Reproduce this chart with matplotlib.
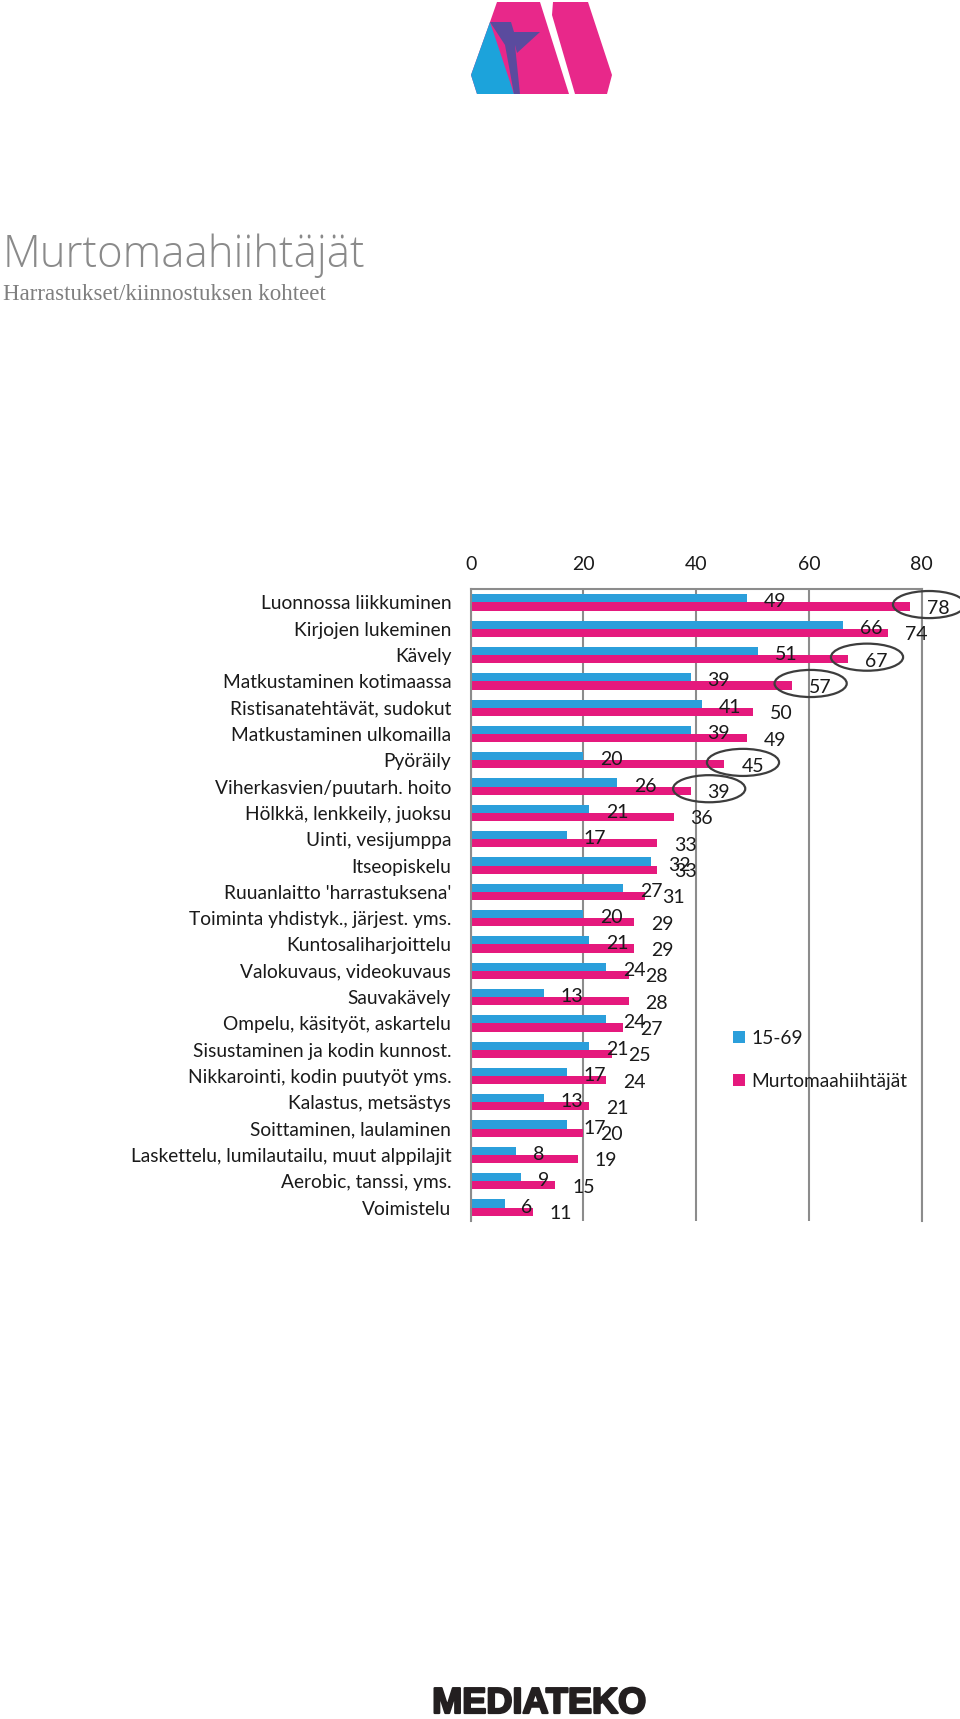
import matplotlib
matplotlib.use('Agg')
import matplotlib.pyplot as plt
import matplotlib.patches as patches
import matplotlib.patheffects as pe

# data, top to bottom
categories = [
    'Luonnossa liikkuminen',
    'Kirjojen lukeminen',
    'Kävely',
    'Matkustaminen kotimaassa',
    'Ristisanatehtävät, sudokut',
    'Matkustaminen ulkomailla',
    'Pyöräily',
    'Viherkasvien/puutarh. hoito',
    'Hölkkä, lenkkeily, juoksu',
    'Uinti, vesijumppa',
    'Itseopiskelu',
    "Ruuanlaitto 'harrastuksena'",
    'Toiminta yhdistyk., järjest. yms.',
    'Kuntosaliharjoittelu',
    'Valokuvaus, videokuvaus',
    'Sauvakävely',
    'Ompelu, käsityöt, askartelu',
    'Sisustaminen ja kodin kunnost.',
    'Nikkarointi, kodin puutyöt yms.',
    'Kalastus, metsästys',
    'Soittaminen, laulaminen',
    'Laskettelu, lumilautailu, muut alppilajit',
    'Aerobic, tanssi, yms.',
    'Voimistelu',
]
all_15_69 = [49, 66, 51, 39, 41, 39, 20, 26, 21, 17, 32, 27, 20, 21, 24, 13,
             24, 21, 17, 13, 17, 8, 9, 6]
skiers = [78, 74, 67, 57, 50, 49, 45, 39, 36, 33, 33, 31, 29, 29, 28, 28,
          27, 25, 24, 21, 20, 19, 15, 11]
series_names = ['15-69', 'Murtomaahiihtäjät']
circled = ['Luonnossa liikkuminen', 'Kävely', 'Matkustaminen kotimaassa',
           'Pyöräily', 'Viherkasvien/puutarh. hoito']
xticks = [0, 20, 40, 60, 80]

BLUE = '#2B9FDB'
PINK = '#E5197D'
GRID = '#8c8c8c'
TXT = '#1a1a1a'
FONT = 'Lato'
FS = 13.8

W, H = 960, 1719


def px(x, y):
    # pixel position (top-left origin) -> figure fraction
    return (x / W, 1 - y / H)


fig = plt.figure(figsize=(W / 100, H / 100), dpi=100)
fig.patch.set_facecolor('white')

# logo on top
logo_pink = '#E8288A'
logo_blue = '#1CA3DB'
logo_purple = '#5A4B9E'
shapes = [
    ([(497, 2), (540, 2), (569, 94), (477, 94), (471, 75), (490, 22)], logo_pink),
    ([(490, 22), (514, 94), (477, 94), (471, 75)], logo_blue),
    ([(490, 22), (511, 22), (514, 32), (540, 32), (517, 53), (515, 45),
      (505, 45)], logo_purple),
    ([(505, 45), (515, 45), (520, 94), (514, 94)], logo_purple),
    ([(553, 2), (588, 2), (612, 75), (607, 94), (575, 94), (552, 15)], logo_pink),
]
for pts, col in shapes:
    fig.add_artist(patches.Polygon([px(*p) for p in pts], closed=True,
                                   facecolor=col, edgecolor='none',
                                   transform=fig.transFigure))

fig.text(*px(3, 267), 'Murtomaahiihtäjät', fontsize=31.5, family='Open Sans',
         fontweight='light', color='#8a8a8a', va='baseline', ha='left')
fig.text(*px(3, 300), 'Harrastukset/kiinnostuksen kohteet', fontsize=16.5,
         family='Liberation Serif', color='#7f7f7f', va='baseline', ha='left')

ax = fig.add_axes([470.7 / W, 1 - 1220.7 / H, 451 / W, 631.4 / H])
n = len(categories)
ypos = list(range(n))
bh = 0.31
b1 = ax.barh([y - bh / 2 for y in ypos], all_15_69, height=bh, color=BLUE,
             label=series_names[0], zorder=2)
b2 = ax.barh([y + bh / 2 for y in ypos], skiers, height=bh, color=PINK,
             label=series_names[1], zorder=2)

for i in ypos:
    ax.text(all_15_69[i] + 3, i - 0.02, str(all_15_69[i]), fontsize=14,
            family=FONT, color=TXT, va='center', ha='left', zorder=4)
    ax.text(skiers[i] + 3, i + 0.23, str(skiers[i]), fontsize=14,
            family=FONT, color=TXT, va='center', ha='left', zorder=4,
            clip_on=False)

for name in circled:
    i = categories.index(name)
    ax.add_patch(patches.Ellipse((skiers[i] + 3.3, i + 0.08), width=12.8,
                                 height=1.03, facecolor='none',
                                 edgecolor='#3d3d3d', linewidth=1.6,
                                 clip_on=False, zorder=5))

ax.set_xlim(0, 80)
ax.set_ylim(n - 0.5, -0.5)
ax.set_xticks(xticks)
ax.xaxis.tick_top()
ax.tick_params(axis='x', length=0, pad=12, labelsize=14, labelcolor=TXT)
ax.set_yticks(ypos)
ax.set_yticklabels(categories, family=FONT)
ax.tick_params(axis='y', length=0, pad=14, labelsize=FS, labelcolor=TXT)
for lab in ax.get_xticklabels():
    lab.set_family(FONT)

ax.grid(axis='x', color=GRID, linewidth=1.5)
ax.set_axisbelow(True)
for side in ['left', 'top', 'right']:
    ax.spines[side].set_color(GRID)
    ax.spines[side].set_linewidth(1.5)
ax.spines['bottom'].set_visible(False)

fig.legend(handles=[b1, b2], loc='upper left', bbox_to_anchor=px(732.7, 1030),
           frameon=False, borderpad=0, borderaxespad=0, handlelength=0.62,
           handleheight=0.62, handletextpad=0.35, labelspacing=1.35,
           prop={'family': FONT, 'size': FS}, labelcolor=TXT)

fig.text(*px(539, 1713), 'MEDIATEKO', fontsize=26,
         family='Liberation Sans', fontweight='bold',
         color='#231f20', ha='center', va='baseline',
         path_effects=[pe.withStroke(linewidth=1.6, foreground='#231f20')])

fig.savefig('out.png', dpi=100, facecolor='white')
